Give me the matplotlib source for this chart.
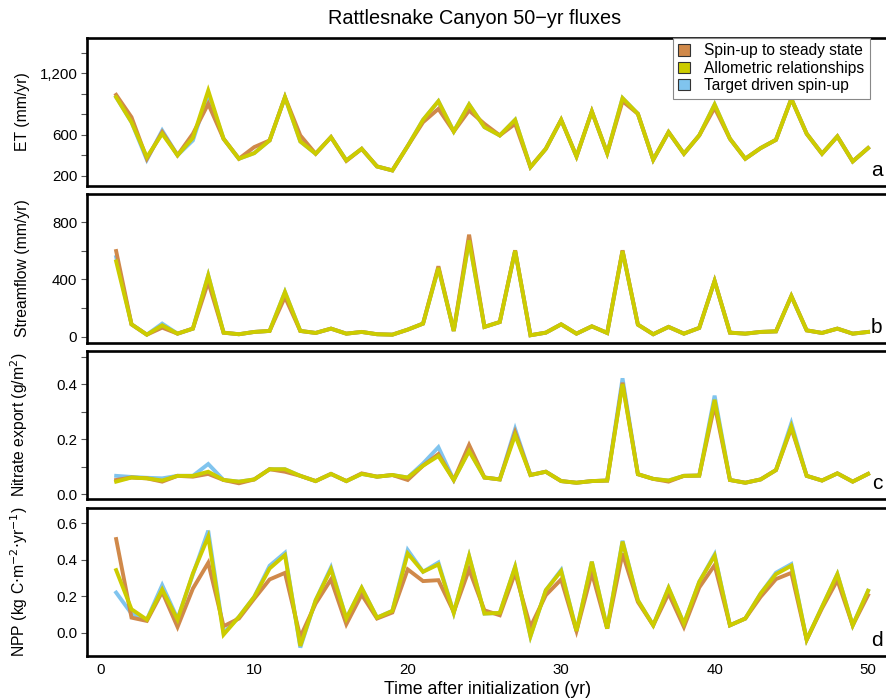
import numpy as np
import matplotlib
matplotlib.use("Agg")
import matplotlib.pyplot as plt
from matplotlib.patches import Patch
from matplotlib.ticker import FuncFormatter

plt.rcParams['font.family'] = ['Liberation Sans', 'DejaVu Sans']

# years after initialization
years = np.arange(1, 51)

# ET (mm/yr)
et_spinup = [990, 772, 366, 626, 400, 610, 902, 561, 366, 480,
             545, 967, 594, 415, 577, 345, 463, 291, 252, 490,
             723, 853, 632, 837, 707, 594, 707, 285, 463, 746,
             389, 828, 421, 928, 805, 356, 626, 415, 594, 863,
             561, 366, 470, 551, 951, 610, 415, 584, 340, 470]
et_allom = [967, 723, 382, 610, 400, 570, 1032, 561, 366, 421,
            545, 967, 535, 415, 577, 350, 463, 291, 252, 490,
            746, 928, 632, 896, 675, 594, 746, 285, 463, 746,
            389, 828, 421, 958, 805, 356, 626, 415, 594, 896,
            561, 366, 470, 551, 951, 610, 415, 584, 340, 470]
et_target = [967, 723, 356, 642, 400, 545, 1000, 561, 366, 421,
             545, 967, 535, 415, 577, 350, 463, 291, 252, 490,
             746, 928, 632, 896, 675, 594, 746, 285, 463, 746,
             389, 828, 421, 958, 805, 356, 626, 415, 594, 896,
             561, 366, 470, 551, 951, 610, 415, 584, 340, 470]

# streamflow (mm/yr)
q_spinup = [598, 88, 16, 65, 23, 58, 383, 30, 19, 35,
            42, 278, 42, 28, 58, 23, 35, 19, 16, 51,
            93, 492, 42, 712, 70, 104, 603, 12, 30, 88,
            23, 74, 28, 603, 86, 19, 70, 23, 63, 390,
            30, 23, 35, 39, 285, 46, 28, 58, 23, 35]
q_allom = [526, 88, 16, 81, 23, 58, 429, 30, 19, 35,
           42, 313, 42, 28, 58, 23, 35, 19, 16, 51,
           93, 480, 42, 672, 70, 104, 600, 12, 30, 88,
           23, 74, 28, 598, 86, 19, 70, 23, 63, 390,
           30, 23, 35, 39, 285, 46, 28, 58, 23, 35]
q_target = [556, 88, 16, 93, 23, 58, 429, 30, 19, 35,
            42, 313, 42, 28, 58, 23, 35, 19, 16, 51,
            93, 480, 42, 672, 70, 104, 600, 12, 30, 88,
            23, 74, 28, 598, 86, 19, 70, 23, 63, 390,
            30, 23, 35, 39, 285, 46, 28, 58, 23, 35]

# nitrate export (g/m2)
n_spinup = [0.052, 0.061, 0.058, 0.046, 0.067, 0.064, 0.074, 0.052, 0.040, 0.054,
            0.091, 0.082, 0.067, 0.048, 0.074, 0.048, 0.076, 0.064, 0.070, 0.052,
            0.104, 0.146, 0.052, 0.179, 0.061, 0.054, 0.225, 0.070, 0.082, 0.048,
            0.042, 0.048, 0.050, 0.405, 0.073, 0.056, 0.046, 0.067, 0.068, 0.324,
            0.052, 0.042, 0.054, 0.088, 0.240, 0.067, 0.050, 0.076, 0.046, 0.074]
n_allom = [0.046, 0.061, 0.058, 0.050, 0.067, 0.067, 0.082, 0.052, 0.046, 0.054,
           0.091, 0.091, 0.067, 0.048, 0.074, 0.048, 0.074, 0.064, 0.070, 0.061,
           0.104, 0.139, 0.052, 0.157, 0.061, 0.054, 0.215, 0.070, 0.082, 0.048,
           0.042, 0.048, 0.050, 0.400, 0.073, 0.056, 0.050, 0.067, 0.068, 0.343,
           0.052, 0.042, 0.054, 0.088, 0.246, 0.067, 0.050, 0.076, 0.046, 0.074]
n_target = [0.067, 0.063, 0.060, 0.058, 0.067, 0.067, 0.110, 0.052, 0.046, 0.054,
            0.091, 0.091, 0.067, 0.048, 0.074, 0.048, 0.074, 0.064, 0.070, 0.061,
            0.112, 0.171, 0.052, 0.160, 0.061, 0.054, 0.237, 0.070, 0.082, 0.048,
            0.042, 0.048, 0.050, 0.421, 0.073, 0.056, 0.050, 0.067, 0.068, 0.358,
            0.052, 0.042, 0.054, 0.088, 0.258, 0.067, 0.050, 0.076, 0.046, 0.074]

# NPP (kg C m-2 yr-1)
npp_spinup = [0.514, 0.084, 0.066, 0.225, 0.033, 0.243, 0.384, 0.037, 0.079, 0.188,
              0.293, 0.329, -0.022, 0.161, 0.293, 0.048, 0.210, 0.079, 0.112, 0.348,
              0.284, 0.289, 0.115, 0.348, 0.124, 0.097, 0.329, 0.033, 0.207, 0.293,
              0.011, 0.329, 0.024, 0.435, 0.170, 0.042, 0.216, 0.033, 0.249, 0.371,
              0.042, 0.079, 0.198, 0.295, 0.329, -0.037, 0.135, 0.289, 0.042, 0.207]
npp_allom = [0.344, 0.130, 0.073, 0.238, 0.073, 0.326, 0.527, -0.009, 0.088, 0.198,
             0.353, 0.426, -0.071, 0.179, 0.349, 0.079, 0.247, 0.084, 0.121, 0.435,
             0.335, 0.375, 0.110, 0.421, 0.106, 0.110, 0.362, -0.018, 0.234, 0.339,
             0.011, 0.390, 0.024, 0.500, 0.179, 0.042, 0.247, 0.051, 0.280, 0.423,
             0.042, 0.079, 0.216, 0.322, 0.368, -0.037, 0.143, 0.322, 0.042, 0.231]
npp_target = [0.221, 0.106, 0.073, 0.262, 0.078, 0.320, 0.560, 0.000, 0.088, 0.198,
              0.368, 0.439, -0.080, 0.179, 0.359, 0.079, 0.247, 0.084, 0.121, 0.454,
              0.335, 0.386, 0.110, 0.421, 0.106, 0.110, 0.362, -0.018, 0.234, 0.345,
              0.011, 0.390, 0.024, 0.505, 0.179, 0.042, 0.247, 0.051, 0.280, 0.430,
              0.042, 0.079, 0.216, 0.330, 0.377, -0.037, 0.143, 0.322, 0.042, 0.231]

C_SPIN = "#d0894a"
C_ALLOM = "#cccc00"
C_TARGET = "#80c4ee"

panels = [
    dict(s=et_spinup, a=et_allom, t=et_target, ylabel="ET (mm/yr)",
         ylim=(100, 1545), ticks=[200, 400, 600, 800, 1000, 1200, 1400],
         labels=[200, 600, 1200], tag="a"),
    dict(s=q_spinup, a=q_allom, t=q_target, ylabel="Streamflow (mm/yr)",
         ylim=(-42, 995), ticks=[0, 200, 400, 600, 800],
         labels=[0, 400, 800], tag="b"),
    dict(s=n_spinup, a=n_allom, t=n_target, ylabel="Nitrate export (g/m$^2$)",
         ylim=(-0.017, 0.52), ticks=[0.0, 0.1, 0.2, 0.3, 0.4, 0.5],
         labels=[0.0, 0.2, 0.4], tag="c"),
    dict(s=npp_spinup, a=npp_allom, t=npp_target,
         ylabel="NPP (kg C$\\cdot$m$^{-2}$$\\cdot$yr$^{-1}$)",
         ylim=(-0.126, 0.684), ticks=[0.0, 0.2, 0.4, 0.6],
         labels=[0.0, 0.2, 0.4, 0.6], tag="d"),
]

fig = plt.figure(figsize=(8.86, 7.0), dpi=100)
W, H = 886.0, 700.0
boxes = [(38, 186), (194, 343), (351, 499), (508, 656)]
left_px, right_px = 87, 888

for i, (p, (top, bot)) in enumerate(zip(panels, boxes)):
    ax = fig.add_axes([left_px / W, (H - bot) / H, (right_px - left_px) / W, (bot - top) / H])
    lw = 2.8
    ax.plot(years, p["t"], color=C_TARGET, lw=lw, solid_joinstyle="miter")
    ax.plot(years, p["s"], color=C_SPIN, lw=lw, solid_joinstyle="miter")
    ax.plot(years, p["a"], color=C_ALLOM, lw=lw, solid_joinstyle="miter")
    ax.set_xlim(-0.9, 51.3)
    ax.set_ylim(*p["ylim"])
    ax.set_yticks(p["ticks"])
    labs = p["labels"]
    if i == 0:
        fmt = lambda v, pos, labs=labs: f"{int(v):,}" if v in labs else ""
    elif i == 1:
        fmt = lambda v, pos, labs=labs: f"{int(v)}" if v in labs else ""
    else:
        fmt = lambda v, pos, labs=labs: f"{v:.1f}" if any(abs(v - l) < 1e-9 for l in labs) else ""
    ax.yaxis.set_major_formatter(FuncFormatter(fmt))
    ax.tick_params(axis="y", direction="out", length=4, width=0.8, color="#555555",
                   labelsize=10.8, pad=3)
    for sp in ax.spines.values():
        sp.set_linewidth(1.9)
    ax.set_ylabel(p["ylabel"], fontsize=11.3)
    ax.yaxis.set_label_coords(-0.071, 0.5)
    ax.text(0.993, 0.065, p["tag"], transform=ax.transAxes, ha="right",
            va="baseline", fontsize=15)
    if i < 3:
        ax.set_xticks([])
    else:
        ax.set_xticks([0, 10, 20, 30, 40, 50])
        ax.tick_params(axis="x", length=0, labelsize=10.8, pad=5)
        ax.set_xlabel("Time after initialization (yr)", fontsize=12.8, labelpad=3)
    if i == 0:
        handles = [Patch(facecolor=C_SPIN, edgecolor="#333333", lw=0.8),
                   Patch(facecolor=C_ALLOM, edgecolor="#333333", lw=0.8),
                   Patch(facecolor=C_TARGET, edgecolor="#333333", lw=0.8)]
        leg = ax.legend(handles, ["Spin-up to steady state", "Allometric relationships",
                                  "Target driven spin-up"],
                        loc="upper right", bbox_to_anchor=(0.977, 1.0), borderaxespad=0,
                        fontsize=11.2, handlelength=0.75, handleheight=0.75,
                        labelspacing=0.15, handletextpad=0.9, borderpad=0.35,
                        fancybox=False, framealpha=1)
        leg.get_frame().set_edgecolor("#888888")
        leg.get_frame().set_linewidth(0.8)

fig.text(475 / W, 1 - 18 / H, "Rattlesnake Canyon 50\u2212yr fluxes", ha="center",
         va="center", fontsize=14.3)

fig.savefig("out.png", dpi=100)
